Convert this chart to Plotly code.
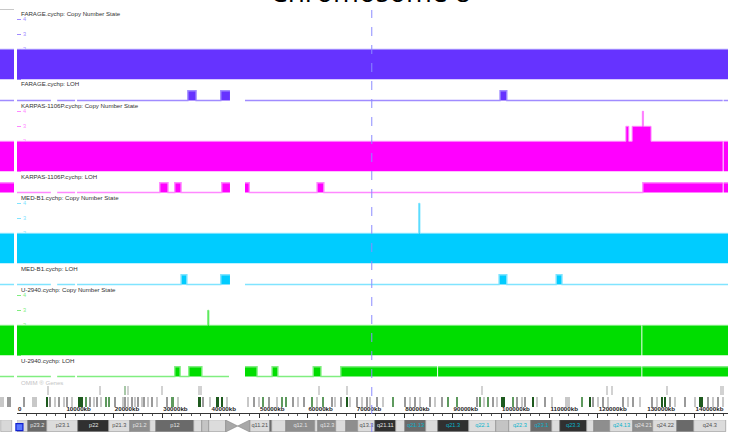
import plotly.graph_objects as go

W, H = 733, 436

# ---------------- data ----------------
samples = ["FARAGE", "KARPAS-1106P", "MED-B1", "U-2940"]
chrom_len = 146.9          # Mb shown on the axis
cursor_mb = 73.3           # dashed cursor position (Mb)

# copy number state segments (Mb)
farage_cn_start = [0.0]
farage_cn_end = [146.9]
farage_cn_state = [2]

karpas_cn_start = [0.0, 125.8, 126.4, 127.1, 129.2, 129.45, 131.0, 146.0]
karpas_cn_end = [125.8, 126.4, 127.1, 129.2, 129.45, 131.0, 145.8, 146.9]
karpas_cn_state = [2, 3, 2, 3, 4, 3, 2, 2]

medb1_cn_start = [0.0, 83.0, 83.25]
medb1_cn_end = [83.0, 83.25, 146.9]
medb1_cn_state = [2, 4, 2]

u2940_cn_start = [0.0, 39.4, 39.65, 129.2]
u2940_cn_end = [39.4, 39.65, 129.0, 146.9]
u2940_cn_state = [2, 3, 2, 2]

# LOH segments (Mb)
farage_loh_start = [0.0, 8.3, 12.4, 35.3, 37.0, 42.1, 47.1, 99.8, 101.2, 146.0]
farage_loh_end = [7.0, 12.0, 35.3, 37.0, 42.1, 44.0, 99.8, 101.2, 145.8, 146.9]
farage_loh_state = [0, 0, 0, 1, 0, 1, 0, 1, 0, 0]

karpas_loh_start = [0.0, 8.3, 12.4, 29.5, 31.2, 32.6, 33.9, 42.3, 47.1, 48.0, 62.0, 63.4, 129.3, 146.0]
karpas_loh_end = [7.0, 12.0, 29.5, 31.2, 32.6, 33.9, 42.3, 44.0, 48.0, 62.0, 63.4, 129.3, 145.8, 146.9]
karpas_loh_state = [0, 0, 0, 1, 0, 1, 0, 1, 1, 0, 1, 0, 1, 1]

medb1_loh_start = [0.0, 8.3, 12.4, 33.9, 35.1, 42.1, 47.1, 99.6, 101.2, 111.4, 112.6]
medb1_loh_end = [7.0, 12.0, 33.9, 35.1, 42.1, 44.0, 99.6, 101.2, 111.4, 112.6, 146.9]
medb1_loh_state = [0, 0, 0, 1, 0, 1, 0, 1, 0, 1, 0]

u2940_loh_start = [0.0, 8.3, 12.4, 32.6, 33.7, 35.5, 38.2, 47.1, 49.6, 52.7, 53.9, 61.2, 62.8, 66.9, 87.0, 129.2]
u2940_loh_end = [7.0, 12.0, 32.6, 33.7, 35.5, 38.2, 43.8, 49.6, 52.7, 53.9, 61.2, 62.8, 66.9, 86.8, 129.0, 146.9]
u2940_loh_state = [0, 0, 0, 1, 0, 1, 0, 1, 0, 1, 0, 1, 0, 1, 1, 1]

# tail of previous chromosome shown in the narrow left panel
left_cn_state = [2, 2, 2, 2]
left_loh_state = [0, 1, 0, 0]

# OMIM genes (Mb), lower dense row
gene_pos = [1.45, 3.6, 6.2, 6.8, 7.85, 8.7, 9.7, 10.3, 11.4, 13.0,
            13.4, 14.3, 15.1, 15.9, 16.5, 17.4, 18.4, 19.0, 20.2, 21.9,
            22.3, 22.9, 23.8, 24.4, 25.0, 25.8, 26.2, 27.1, 27.9, 28.9,
            31.0, 32.2, 33.3, 37.8, 38.4, 39.9, 41.5, 42.4, 43.4, 47.7,
            49.0, 50.0, 50.8, 52.1, 53.7, 54.7, 55.6, 57.0, 58.1, 59.3,
            61.0, 62.0, 63.2, 65.1, 65.7, 66.9, 68.2, 68.8, 70.2, 71.3,
            72.3, 72.9, 74.4, 75.6, 77.7, 80.2, 81.2, 82.2, 83.3, 85.3,
            86.4, 87.8, 89.0, 90.9, 95.0, 95.7, 96.5, 97.3, 98.3, 99.2,
            100.4, 102.5, 103.3, 104.3, 105.0, 106.6, 107.4, 109.1, 110.5, 113.8,
            116.7, 118.4, 119.0, 120.0, 121.1, 122.1, 125.2, 126.2, 127.3, 128.7,
            131.2, 132.2, 133.3, 133.9, 134.9, 135.9, 138.0, 140.1, 141.4, 142.8,
            143.8, 144.8, 145.9]
gene_width = [0.3, 1.0, 0.4, 0.3, 0.3, 0.3, 0.3, 0.3, 0.3, 0.4,
              0.3, 0.5, 0.3, 0.3, 0.3, 0.3, 0.4, 0.3, 0.3, 0.3,
              0.3, 0.3, 0.3, 0.3, 0.3, 0.3, 0.3, 0.3, 0.3, 0.3,
              0.3, 0.4, 0.3, 0.4, 0.3, 0.3, 0.4, 0.4, 0.3, 0.3,
              0.3, 0.3, 0.3, 0.3, 0.3, 0.3, 0.3, 0.3, 0.3, 0.3,
              0.3, 0.3, 0.3, 0.3, 0.3, 0.3, 0.5, 0.3, 0.3, 0.3,
              0.3, 0.3, 0.3, 0.3, 0.3, 0.3, 0.3, 0.3, 0.3, 0.3,
              0.3, 0.3, 0.3, 0.3, 0.3, 0.3, 0.3, 0.3, 0.3, 0.3,
              0.8, 0.3, 0.3, 0.3, 0.3, 0.5, 0.3, 0.3, 0.3, 1.0,
              0.3, 0.5, 0.3, 0.3, 0.3, 0.3, 0.3, 0.3, 0.3, 0.3,
              0.3, 0.3, 0.4, 0.4, 0.3, 0.3, 0.3, 0.3, 0.8, 0.3,
              0.3, 0.3, 0.3]
gene_shade = [1, 0, 3, 1, 0, 1, 0, 1, 0, 3,
              3, 2, 1, 0, 1, 0, 2, 2, 1, 0,
              1, 0, 1, 0, 1, 0, 1, 0, 1, 0,
              1, 2, 0, 3, 1, 0, 3, 3, 0, 0,
              1, 0, 2, 1, 0, 2, 2, 1, 0, 1,
              2, 0, 2, 1, 0, 1, 3, 0, 1, 0,
              1, 0, 1, 0, 2, 1, 0, 1, 0, 1,
              0, 1, 2, 2, 1, 2, 0, 2, 1, 0,
              3, 2, 1, 0, 1, 3, 0, 1, 0, 0,
              2, 3, 1, 0, 1, 0, 1, 0, 1, 0,
              1, 0, 3, 3, 1, 0, 1, 0, 3, 1,
              0, 1, 0]
# upper sparse row
gene2_pos = [6.4, 17.1, 22.4, 22.9, 30.0, 37.6, 38.1, 62.4, 68.2, 96.1, 121.9, 122.9, 134.3, 145.5, 145.9]
gene2_shade = [0, 0, 2, 0, 0, 0, 0, 0, 0, 0, 0, 0, 0, 0, 0]
left_gene_pos = [0.15, 0.62]
left_gene_shade = [0, 1]

# ruler
tick_mb = [0, 10, 20, 30, 40, 50, 60, 70, 80, 90, 100, 110, 120, 130, 140]
tick_text = ["0", "10000kb", "20000kb", "30000kb", "40000kb", "50000kb", "60000kb", "70000kb",
             "80000kb", "90000kb", "100000kb", "110000kb", "120000kb", "130000kb", "140000kb"]

# cytobands (hg19 chr8, Mb)
band_name = ["p23.3", "p23.2", "p23.1", "p22", "p21.3", "p21.2", "p21.1", "p12", "p11.23", "p11.22",
             "p11.21", "p11.1", "q11.1", "q11.21", "q11.22", "q11.23", "q12.1", "q12.2", "q12.3", "q13.1",
             "q13.2", "q13.3", "q21.11", "q21.12", "q21.13", "q21.2", "q21.3", "q22.1", "q22.2", "q22.3",
             "q23.1", "q23.2", "q23.3", "q24.11", "q24.12", "q24.13", "q24.21", "q24.22", "q24.23", "q24.3"]
band_start = [0.0, 2.2, 6.2, 12.7, 19.0, 23.3, 27.4, 28.8, 36.5, 38.3,
              39.7, 43.1, 45.6, 48.1, 52.2, 52.6, 55.5, 61.6, 62.2, 66.0,
              68.0, 70.5, 73.9, 78.3, 80.1, 84.6, 86.9, 93.3, 99.0, 101.6,
              106.2, 110.5, 112.1, 117.7, 119.2, 122.5, 127.3, 131.5, 136.4, 139.9]
band_end = [2.2, 6.2, 12.7, 19.0, 23.3, 27.4, 28.8, 36.5, 38.3, 39.7,
            43.1, 45.6, 48.1, 52.2, 52.6, 55.5, 61.6, 62.2, 66.0, 68.0,
            70.5, 73.9, 78.3, 80.1, 84.6, 86.9, 93.3, 99.0, 101.6, 106.2,
            110.5, 112.1, 117.7, 119.2, 122.5, 127.3, 131.5, 136.4, 139.9, 146.4]
band_stain = ["gneg", "gpos75", "gneg", "gpos100", "gneg", "gpos50", "gneg", "gpos75", "gneg", "gpos25",
              "gneg", "acen", "acen", "gneg", "gpos75", "gneg", "gpos50", "gneg", "gpos50", "gneg",
              "gpos50", "gneg", "gpos100", "gneg", "gpos75", "gneg", "gpos100", "gneg", "gpos25", "gneg",
              "gpos75", "gneg", "gpos100", "gneg", "gpos50", "gneg", "gpos50", "gneg", "gpos75", "gneg"]
labelled_bands = ["p23.2", "p23.1", "p22", "p21.3", "p21.2", "p12", "q11.21", "q12.1", "q12.3", "q13.3",
                  "q21.11", "q21.13", "q21.3", "q22.1", "q22.3", "q23.1", "q23.3", "q24.13", "q24.21",
                  "q24.22", "q24.3"]
highlighted_bands = ["q21.13", "q21.3", "q22.1", "q22.3", "q23.1", "q23.3", "q24.13"]

# ---------------- styles ----------------
fill_col = ["#6633FF", "#FF00FF", "#00CCFF", "#00DD00"]
edge_col = ["#A08CFF", "#FF88FF", "#80E4FF", "#80EE80"]
stain_col = {"gneg": "#DCDCDC", "gpos25": "#C4C4C4", "gpos50": "#8E8E8E",
             "gpos75": "#6A6A6A", "gpos100": "#303030", "acen": "#A8A8A8"}
shade_col = ["#C8C8C8", "#9A9A9A", "#5E9A5E", "#1E5A1E"]

cn_data = [(farage_cn_start, farage_cn_end, farage_cn_state),
           (karpas_cn_start, karpas_cn_end, karpas_cn_state),
           (medb1_cn_start, medb1_cn_end, medb1_cn_state),
           (u2940_cn_start, u2940_cn_end, u2940_cn_state)]
loh_data = [(farage_loh_start, farage_loh_end, farage_loh_state),
            (karpas_loh_start, karpas_loh_end, karpas_loh_state),
            (medb1_loh_start, medb1_loh_end, medb1_loh_state),
            (u2940_loh_start, u2940_loh_end, u2940_loh_state)]


def runs_xy(starts, ends, vals):
    """Split segments into contiguous runs; return list of (x, y) step outlines."""
    runs = []
    xs, ys = [], []
    prev = None
    for s, e, v in zip(starts, ends, vals):
        if prev is not None and abs(s - prev) > 1e-9:
            runs.append((xs, ys))
            xs, ys = [], []
        xs += [s, e]
        ys += [v, v]
        prev = e
    runs.append((xs, ys))
    return runs


def py(p):
    return 1 - p / H


def pxx(p):
    return p / W


fig = go.Figure()
layout = {}
annotations = []
FONT = "Liberation Sans, Arial, sans-serif"

X_LEFT, X_RIGHT = 17, 728
PITCH = 92
CN_ZERO = 79.3
CN_UNIT = 15.0
LOH_ZERO = 100.5
LOH_UNIT = 9.8

for i, name in enumerate(samples):
    cn_ax = i + 1
    loh_ax = i + 5
    z = CN_ZERO + PITCH * i
    top = z - 4.6 * CN_UNIT
    layout["yaxis%d" % cn_ax] = dict(
        domain=[py(z + 1), py(top)], range=[-1 / CN_UNIT, 4.6], anchor="x",
        showgrid=False, zeroline=False, showline=False, automargin=False,
        tickmode="array", tickvals=[0, 1, 2, 3, 4], ticks="inside", ticklen=4,
        tickcolor=edge_col[i], tickwidth=1, ticklabelposition="inside",
        tickfont=dict(size=5.6, color=edge_col[i], family=FONT), layer="below traces",
        fixedrange=True)
    lz = LOH_ZERO + PITCH * i
    layout["yaxis%d" % loh_ax] = dict(
        domain=[py(lz + 2), py(lz - 14)], range=[-2 / LOH_UNIT, 14 / LOH_UNIT], anchor="x",
        showgrid=False, zeroline=False, showline=False, showticklabels=False, ticks="",
        automargin=False, fixedrange=True)

    for xs, ys in runs_xy(*cn_data[i]):
        fig.add_trace(go.Scatter(x=xs, y=ys, mode="lines", line=dict(color=edge_col[i], width=1),
                                 fill="tozeroy", fillcolor=fill_col[i], xaxis="x", yaxis="y%d" % cn_ax,
                                 hoverinfo="skip", showlegend=False))
    for xs, ys in runs_xy(*loh_data[i]):
        fig.add_trace(go.Scatter(x=xs, y=ys, mode="lines", line=dict(color=edge_col[i], width=1.4),
                                 fill="tozeroy", fillcolor=fill_col[i], xaxis="x", yaxis="y%d" % loh_ax,
                                 hoverinfo="skip", showlegend=False))
    # left panel
    fig.add_trace(go.Scatter(x=[0, 1], y=[left_cn_state[i]] * 2, mode="lines",
                             line=dict(color=edge_col[i], width=1), fill="tozeroy",
                             fillcolor=fill_col[i], xaxis="x2", yaxis="y%d" % cn_ax,
                             hoverinfo="skip", showlegend=False))
    fig.add_trace(go.Scatter(x=[0, 1], y=[left_loh_state[i]] * 2, mode="lines",
                             line=dict(color=edge_col[i], width=1.4), fill="tozeroy",
                             fillcolor=fill_col[i], xaxis="x2", yaxis="y%d" % loh_ax,
                             hoverinfo="skip", showlegend=False))

    annotations.append(dict(text="%s.cychp: Copy Number State" % name, x=pxx(19), y=py(13.5 + PITCH * i),
                            xref="paper", yref="paper", xanchor="left", yanchor="middle",
                            showarrow=False, font=dict(size=6.1, color="#333", family=FONT)))
    annotations.append(dict(text="%s.cychp: LOH" % name, x=pxx(19), y=py(84 + PITCH * i),
                            xref="paper", yref="paper", xanchor="left", yanchor="middle",
                            showarrow=False, font=dict(size=6.1, color="#333", family=FONT)))

# main x axis (hidden; shared by tracks)
layout["xaxis"] = dict(domain=[pxx(X_LEFT), pxx(X_RIGHT)], range=[0, chrom_len], anchor="y13",
                       visible=False, automargin=False, fixedrange=True)

# genes
layout["yaxis9"] = dict(domain=[py(408), py(383)], range=[0, 2.5], anchor="x", visible=False,
                        automargin=False, fixedrange=True)
fig.add_trace(go.Bar(x=gene_pos, y=[1.0] * len(gene_pos), base=0.1, width=gene_width,
                     marker=dict(color=[shade_col[s] for s in gene_shade], line=dict(width=0)),
                     xaxis="x", yaxis="y9", hoverinfo="skip", showlegend=False))
fig.add_trace(go.Bar(x=gene2_pos, y=[0.9] * len(gene2_pos), base=1.3, width=0.3,
                     marker=dict(color=["#D2D2D2" if s == 0 else "#A8C8A8" for s in gene2_shade],
                                 line=dict(width=0)),
                     xaxis="x", yaxis="y9", hoverinfo="skip", showlegend=False))
fig.add_trace(go.Bar(x=left_gene_pos, y=[1.0] * len(left_gene_pos), base=0.1, width=0.3,
                     marker=dict(color=[shade_col[s] for s in left_gene_shade], line=dict(width=0)),
                     xaxis="x2", yaxis="y9", hoverinfo="skip", showlegend=False))
annotations.append(dict(text="OMIM \u00ae Genes", x=pxx(19), y=py(382), xref="paper", yref="paper",
                        xanchor="left", yanchor="middle", showarrow=False,
                        font=dict(size=6.1, color="#C4C4C4", family=FONT)))

# ruler (own x axis)
layout["yaxis10"] = dict(domain=[py(419), py(414)], range=[0, 1], anchor="x3",
                         showgrid=False, zeroline=False, showline=False, showticklabels=False,
                         ticks="", automargin=False, fixedrange=True)
layout["xaxis3"] = dict(domain=[pxx(X_LEFT), pxx(X_RIGHT)], range=[0, chrom_len], anchor="y10",
                        side="top", showgrid=False, zeroline=False, showline=True, linecolor="#333",
                        linewidth=1, tickmode="array", tickvals=tick_mb, ticktext=tick_text,
                        ticks="inside", ticklen=4, tickcolor="#333", ticklabelposition="outside right",
                        tickfont=dict(size=6.2, color="#222", family=FONT, weight="bold"),
                        minor=dict(tickmode="linear", tick0=0, dtick=2, ticks="inside", ticklen=2,
                                   tickcolor="#555"),
                        automargin=False, fixedrange=True)
fig.add_trace(go.Scatter(x=[0], y=[-1], mode="markers", marker=dict(size=1, opacity=0),
                         xaxis="x3", yaxis="y10", hoverinfo="skip", showlegend=False))

# ideogram
layout["yaxis11"] = dict(domain=[py(432), py(420)], range=[0, 1], anchor="x", visible=False,
                         automargin=False, fixedrange=True)
nonacen = [k for k in range(len(band_name)) if band_stain[k] != "acen"]
fig.add_trace(go.Bar(x=[(band_start[k] + band_end[k]) / 2 for k in nonacen],
                     y=[1] * len(nonacen), base=0,
                     width=[band_end[k] - band_start[k] for k in nonacen],
                     marker=dict(color=[stain_col[band_stain[k]] for k in nonacen],
                                 line=dict(width=0.6, color="#8A8A8A")),
                     xaxis="x", yaxis="y11", hoverinfo="skip", showlegend=False))
acen = [k for k in range(len(band_name)) if band_stain[k] == "acen"]
c0, c1, c2 = band_start[acen[0]], band_end[acen[0]], band_end[acen[-1]]
fig.add_trace(go.Scatter(x=[c0, c1, c2, c2, c1, c0, c0], y=[1, 0.5, 1, 0, 0.5, 0, 1],
                         mode="lines", fill="toself", fillcolor=stain_col["acen"],
                         line=dict(color="#888", width=0.6), xaxis="x", yaxis="y11",
                         hoverinfo="skip", showlegend=False))
lab_idx = [band_name.index(b) for b in labelled_bands]
lab_col = []
for k in lab_idx:
    if band_name[k] in highlighted_bands:
        lab_col.append("#08B4CC")
    elif band_stain[k] in ("gpos50", "gpos75", "gpos100"):
        lab_col.append("#E4E4E4")
    else:
        lab_col.append("#505050")
fig.add_trace(go.Scatter(x=[(band_start[k] + band_end[k]) / 2 for k in lab_idx], y=[0.5] * len(lab_idx),
                         mode="text", text=[band_name[k] for k in lab_idx],
                         textfont=dict(size=5.6, color=lab_col, family=FONT),
                         xaxis="x", yaxis="y11", hoverinfo="skip", showlegend=False, cliponaxis=False))
fig.add_trace(go.Scatter(x=[0.5], y=[0.4], mode="markers",
                         marker=dict(symbol="square", size=7, color="#5A78FF",
                                     line=dict(color="#1020D0", width=1.2)),
                         xaxis="x", yaxis="y11", hoverinfo="skip", showlegend=False, cliponaxis=False))
fig.add_trace(go.Bar(x=[0.45], y=[1], base=0, width=0.8,
                     marker=dict(color="#D8D8D8", line=dict(width=0.6, color="#999")),
                     xaxis="x2", yaxis="y11", hoverinfo="skip", showlegend=False))

# left panel frame
layout["xaxis2"] = dict(domain=[0, pxx(14)], range=[0, 1], anchor="y12", side="top",
                        showgrid=False, zeroline=False, showline=True, linecolor="#C8C8C8",
                        showticklabels=False, ticks="", automargin=False, fixedrange=True)
layout["yaxis12"] = dict(domain=[0, py(12)], range=[0, 1], anchor="x2", side="right",
                         showgrid=False, zeroline=False, showline=True, linecolor="#9A9A9A",
                         linewidth=1.5, showticklabels=False, ticks="", automargin=False,
                         fixedrange=True)
# main frame
layout["yaxis13"] = dict(domain=[0, py(10)], range=[0, 1], anchor="x", showgrid=False,
                         zeroline=False, showline=True, mirror=True, linecolor="#B4B4B4",
                         showticklabels=False, ticks="", automargin=False, fixedrange=True)

# title (partly cut at top)
annotations.append(dict(text="Chromosome 8", x=pxx(370), y=1 + 9 / H, xref="paper", yref="paper",
                        xanchor="center", yanchor="middle", showarrow=False,
                        font=dict(size=28, color="#000", family="Open Sans, sans-serif")))

fig.update_layout(
    template="none",
    width=W, height=H, margin=dict(l=0, r=0, t=0, b=0, pad=0),
    paper_bgcolor="white", plot_bgcolor="rgba(0,0,0,0)",
    barmode="overlay", bargap=0, showlegend=False,
    annotations=annotations,
    shapes=[dict(type="line", xref="x", yref="paper", x0=cursor_mb, x1=cursor_mb,
                 y0=py(432), y1=py(10), line=dict(color="#8C8CFF", width=1, dash="dash"),
                 layer="above")],
    **layout)

fig.write_html("out.html", config={"displayModeBar": False},
               post_script="document.body.style.margin='0px';document.body.style.overflow='hidden';")
